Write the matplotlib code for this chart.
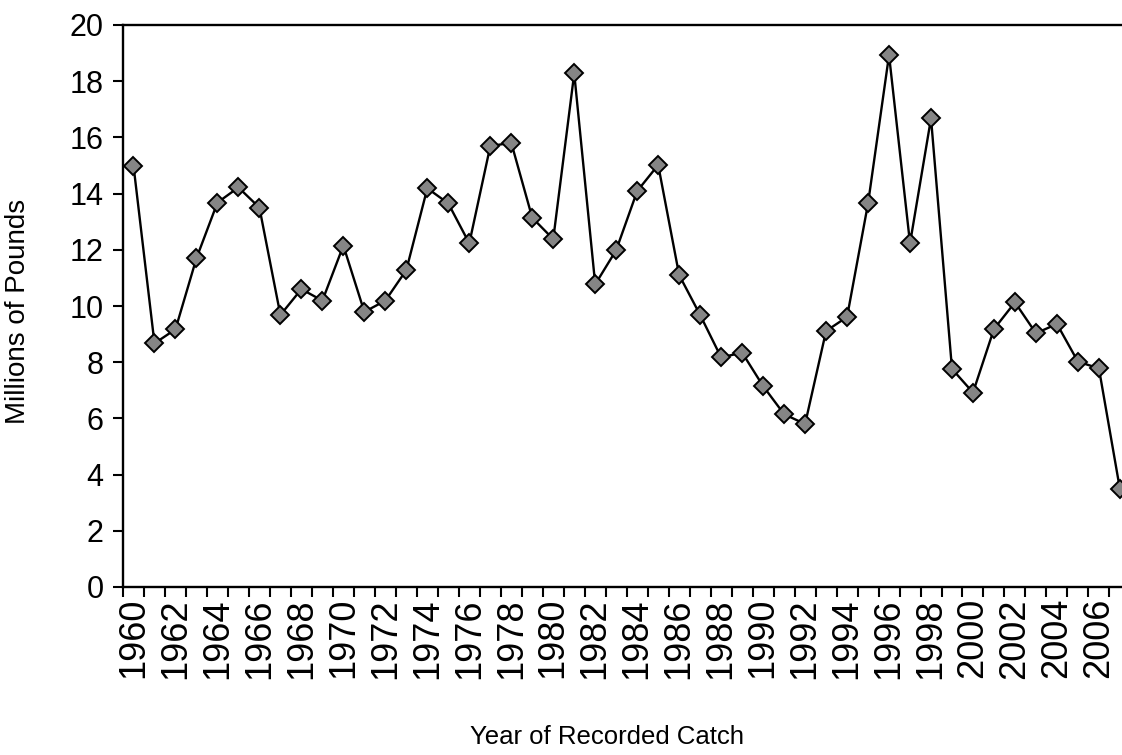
import numpy as np
import matplotlib
matplotlib.use("Agg")
import matplotlib.pyplot as plt
from matplotlib.ticker import FixedLocator, NullFormatter

plt.rcParams['font.family'] = ['Liberation Sans', 'DejaVu Sans']

## datos (millones de libras)
years = list(range(1960, 2008))
catch = [15.0, 8.67, 9.17, 11.70, 13.68, 14.22, 13.50, 9.68, 10.60, 10.19,
         12.15, 9.79, 10.19, 11.28, 14.19, 13.65, 12.23, 15.69, 15.81, 13.14,
         12.38, 18.28, 10.77, 11.99, 14.09, 15.02, 11.10, 9.68, 8.17, 8.34,
         7.15, 6.15, 5.80, 9.11, 9.61, 13.65, 18.93, 12.23, 16.68, 7.76,
         6.92, 9.18, 10.13, 9.03, 9.36, 8.02, 7.78, 3.49]
yticks = list(range(0, 21, 2))
label_years = list(range(1960, 2007, 2))

W, H = 1122, 755
fig = plt.figure(figsize=(W / 100, H / 100), dpi=100)
ax = fig.add_axes([123 / W, 1 - 587 / H, 1 - 123 / W, (587 - 25) / H])

ax.plot(years, catch, color='black', lw=1.7, marker='D', markersize=9.5,
        markerfacecolor='#858585', markeredgecolor='black', markeredgewidth=1.4)

ax.set_xlim(1959.5, 2007.1)
ax.set_ylim(0, 20)

# ticks entre categorias, etiquetas cada dos anios
ax.xaxis.set_major_locator(FixedLocator([y - 0.5 for y in years]))
ax.xaxis.set_major_formatter(NullFormatter())
ax.xaxis.set_minor_locator(FixedLocator(label_years))
ax.set_xticklabels([str(y) for y in label_years], minor=True, rotation=90,
                   fontsize=26)
ax.tick_params(axis='x', which='major', direction='out', length=7, width=1.5)
ax.tick_params(axis='x', which='minor', length=0, pad=8)

ax.set_yticks(yticks)
ax.set_yticklabels([str(v) for v in yticks], fontsize=22)
ax.tick_params(axis='y', direction='out', length=7, width=1.5, pad=7)

for s in ['left', 'bottom', 'top']:
    ax.spines[s].set_linewidth(1.7)
ax.spines['right'].set_visible(False)

fig.text(18 / W, 1 - 311 / H, 'Millions of Pounds', rotation=90,
         ha='center', va='center', fontsize=20)
fig.text(607 / W, 1 - 737 / H, 'Year of Recorded Catch',
         ha='center', va='center', fontsize=18.5)

fig.savefig('out.png', dpi=100)
